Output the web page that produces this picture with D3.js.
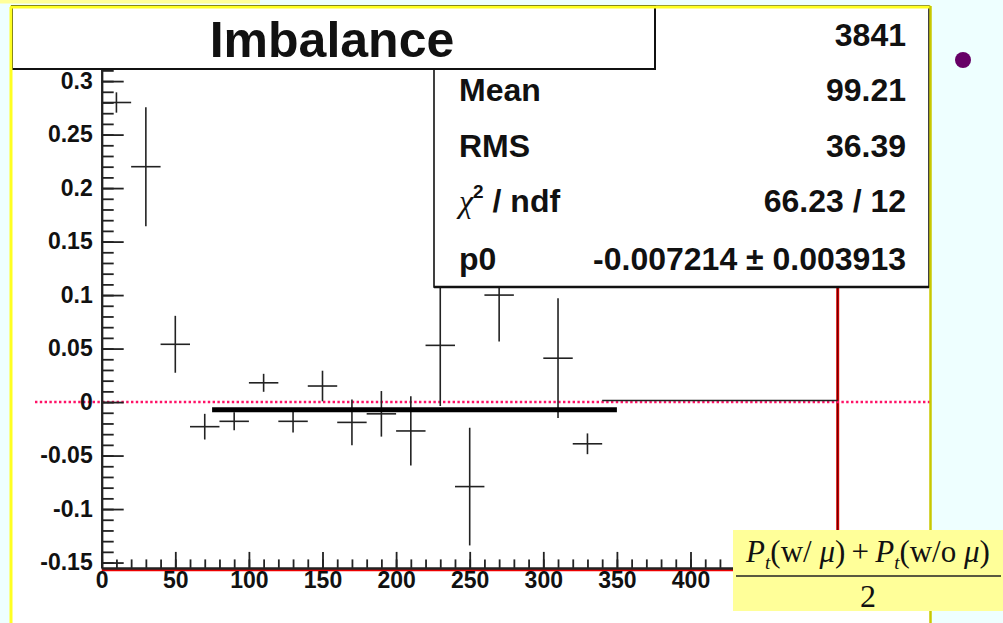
<!DOCTYPE html>
<html><head><meta charset="utf-8">
<script src="https://cdn.jsdelivr.net/npm/d3@7"></script>
<style>
html,body{margin:0;padding:0;background:#EEFFFF;}
svg{display:block;}
</style></head>
<body>
<svg id="chart" width="1003" height="623"></svg>
<script>
// ---------- data ----------
const binCenters = [10,30,50,70,90,110,130,150,170,190,210,230,250,270,310,330,420];
const binHalfWidths = [10,10,10,10,10,10,10,10,10,10,10,10,10,10,10,10,80];
const values = [0.280,0.220,0.054,-0.023,-0.018,0.018,-0.018,0.015,-0.019,-0.011,-0.027,0.053,-0.079,0.100,0.041,-0.039,0.0015];
const errors = [0.0095,0.0556,0.0266,0.012,0.0084,0.0084,0.0105,0.0143,0.0213,0.0213,0.0324,0.0567,0.055,0.0433,0.056,0.0097,0];
const fitRange = [75,350];
const fitP0 = -0.007214;
const xMajorTicks = [0,50,100,150,200,250,300,350,400,450];
const xTickLabels = [0,50,100,150,200,250,300,350,400];
const yTicks = [-0.15,-0.1,-0.05,0,0.05,0.1,0.15,0.2,0.25,0.3];
const title = "Imbalance";
const statLabels = ["", "Mean", "RMS", "chi", "p0"];
const statValues = ["3841", "99.21", "36.39", "66.23 / 12", "-0.007214 \u00B1 0.003913"];

// ---------- layout ----------
const svg = d3.select("#chart");
const x = d3.scaleLinear().domain([0,500]).range([101.7,837.7]);
const y = d3.scaleLinear().domain([-0.155,0.32]).range([567.9,59.7]);
const font = "'Liberation Sans', Arial, Helvetica, sans-serif";

// background decorations
svg.append("rect").attr("x",0).attr("y",0).attr("width",1003).attr("height",623).attr("fill","#EEFFFF");
svg.append("rect").attr("x",0).attr("y",0).attr("width",260).attr("height",3.5).attr("fill","#FFFF99");
// panel
svg.append("rect").attr("x",11).attr("y",8).attr("width",919).attr("height",620).attr("fill","#FFFFFF");

// frame (red)
svg.append("line").attr("x1",x(0)).attr("x2",x(500)).attr("y1",y.range()[0]+2).attr("y2",y.range()[0]+2)
  .attr("stroke","#EE0000").attr("stroke-width",2.5);
svg.append("line").attr("x1",x(500)).attr("x2",x(500)).attr("y1",y.range()[1]).attr("y2",y.range()[0]+2)
  .attr("stroke","#DD0000").attr("stroke-width",3);
svg.append("line").attr("x1",x(500)).attr("x2",x(500)).attr("y1",y.range()[1]).attr("y2",y.range()[0])
  .attr("stroke","#550000").attr("stroke-width",1);

// zero dotted line
svg.append("line").attr("x1",35).attr("x2",930).attr("y1",y(0)).attr("y2",y(0))
  .attr("stroke","#FF1166").attr("stroke-width",2.5).attr("stroke-dasharray","2.4,2.4");

// data crosses
const g = svg.append("g").attr("stroke","#222").attr("stroke-width",1.6);
const idx = d3.range(values.length);
g.selectAll("line.h").data(idx).join("line").attr("class","h")
  .attr("x1",i=>x(binCenters[i]-binHalfWidths[i])).attr("x2",i=>x(binCenters[i]+binHalfWidths[i]))
  .attr("y1",i=>y(values[i])).attr("y2",i=>y(values[i]));
g.selectAll("line.v").data(idx.filter(i=>errors[i]>0)).join("line").attr("class","v")
  .attr("x1",i=>x(binCenters[i])).attr("x2",i=>x(binCenters[i]))
  .attr("y1",i=>y(values[i]-errors[i])).attr("y2",i=>y(values[i]+errors[i]));

// fit line
svg.append("line").attr("x1",x(fitRange[0])).attr("x2",x(fitRange[1])).attr("y1",y(fitP0)).attr("y2",y(fitP0))
  .attr("stroke","#000").attr("stroke-width",5);

// axes
function styleAxis(sel){
  sel.selectAll("path.domain").attr("stroke","#222").attr("stroke-width",2);
  sel.selectAll(".tick line").attr("stroke","#222").attr("stroke-width",1.8);
  sel.selectAll("text").attr("font-family",font).attr("font-weight","bold").attr("font-size",23).attr("fill","#111");
}
const yMinor = d3.range(-15,32).map(v=>v/100);
svg.append("g").attr("transform",`translate(${x(0)},0)`)
  .call(d3.axisLeft(y).tickValues(yMinor).tickSizeInner(-12).tickSizeOuter(0).tickFormat(""))
  .call(styleAxis);
svg.append("g").attr("transform",`translate(${x(0)},0)`)
  .call(d3.axisLeft(y).tickValues(yTicks).tickSizeInner(-22).tickSizeOuter(0).tickPadding(9)
    .tickFormat(d=>String(+d.toFixed(2))))
  .call(styleAxis);
const xMinor = d3.range(0,501,10);
svg.append("g").attr("transform",`translate(0,${y.range()[0]})`)
  .call(d3.axisBottom(x).tickValues(xMinor).tickSizeInner(-8.5).tickSizeOuter(0).tickFormat(""))
  .call(styleAxis);
svg.append("g").attr("transform",`translate(0,${y.range()[0]})`)
  .call(d3.axisBottom(x).tickValues(xMajorTicks).tickSizeInner(-16).tickSizeOuter(0).tickFormat(""))
  .call(styleAxis);
const xLab = svg.append("g").attr("transform",`translate(0,${y.range()[0]})`)
  .call(d3.axisBottom(x).tickValues(xTickLabels).tickSize(0).tickPadding(4).tickFormat(d=>String(d)))
  .call(styleAxis);
xLab.select("path.domain").remove();

// stats box
svg.append("rect").attr("x",434).attr("y",6).attr("width",495).attr("height",281)
  .attr("fill","#fff").attr("stroke","#111").attr("stroke-width",1.6);
svg.append("line").attr("x1",434).attr("x2",929).attr("y1",287).attr("y2",287).attr("stroke","#111").attr("stroke-width",2.5);
const rowY = [35,90,146,201,259];
const st = svg.append("g").attr("font-family",font).attr("font-weight","bold").attr("font-size",32).attr("fill","#111");
statValues.forEach((v,i)=>{
  st.append("text").attr("x",906).attr("y",rowY[i]).attr("dy","0.35em").attr("text-anchor","end").text(v);
});
statLabels.forEach((l,i)=>{
  if(!l) return;
  const t = st.append("text").attr("x",459).attr("y",rowY[i]).attr("dy","0.35em");
  if(l==="chi"){
    t.append("tspan").attr("font-family","'Liberation Serif','Times New Roman',serif").attr("font-weight","normal").attr("font-style","italic").attr("font-size",32).text("\u03C7");
    t.append("tspan").attr("font-size",19).attr("dy","-0.75em").text("2");
    t.append("tspan").attr("dy","0.45em").text(" / ndf");
  } else t.text(l);
});

// title box
svg.append("rect").attr("x",12).attr("y",6).attr("width",643).attr("height",63)
  .attr("fill","#fff").attr("stroke","#111").attr("stroke-width",2);
svg.append("text").attr("x",332).attr("y",39).attr("dy","0.35em").attr("text-anchor","middle")
  .attr("font-family",font).attr("font-weight","bold").attr("font-size",50).attr("fill","#111").text(title);

// panel border
svg.append("line").attr("x1",11).attr("x2",11).attr("y1",7).attr("y2",623).attr("stroke","#FFFF22").attr("stroke-width",3);
svg.append("line").attr("x1",10).attr("x2",931).attr("y1",7).attr("y2",7).attr("stroke","#FFFF22").attr("stroke-width",3);
svg.append("line").attr("x1",930.5).attr("x2",930.5).attr("y1",6).attr("y2",623).attr("stroke","#C8C800").attr("stroke-width",2.5);

// formula box
svg.append("rect").attr("x",733).attr("y",530).attr("width",270).attr("height",81).attr("fill","#FFFF99");
const ff = "'Liberation Serif','Times New Roman',serif";
const num = svg.append("text").attr("x",868).attr("y",562).attr("text-anchor","middle")
  .attr("font-family",ff).attr("font-size",31).attr("fill","#111");
num.append("tspan").attr("font-style","italic").text("P");
num.append("tspan").attr("font-style","italic").attr("font-size",19).attr("dy",7).text("t");
num.append("tspan").attr("dy",-7).text("(w/ ");
num.append("tspan").attr("font-style","italic").text("\u03BC");
num.append("tspan").text(")\u2009+\u2009");
num.append("tspan").attr("font-style","italic").text("P");
num.append("tspan").attr("font-style","italic").attr("font-size",19).attr("dy",7).text("t");
num.append("tspan").attr("dy",-7).text("(w/o ");
num.append("tspan").attr("font-style","italic").text("\u03BC");
num.append("tspan").text(")");
svg.append("line").attr("x1",736).attr("x2",1001).attr("y1",576).attr("y2",576).attr("stroke","#222").attr("stroke-width",1.5);
svg.append("text").attr("x",868).attr("y",607).attr("text-anchor","middle")
  .attr("font-family",ff).attr("font-size",32).attr("fill","#111").text("2");

// bullet
svg.append("circle").attr("cx",963).attr("cy",60).attr("r",8).attr("fill","#660066");
</script>
</body></html>
